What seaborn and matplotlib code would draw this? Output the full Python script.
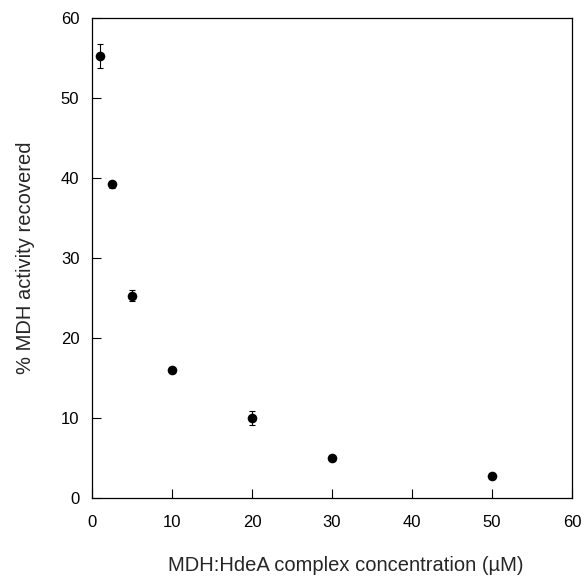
import numpy as np
import pandas as pd
import seaborn as sns
import matplotlib.pyplot as plt

# MDH activity recovery vs complex concentration
conc = [1, 2.5, 5, 10, 20, 30, 50]
activity = [55.3, 39.2, 25.3, 16.0, 10.0, 5.0, 2.8]
err = [1.5, 0.4, 0.7, 0.3, 0.9, 0.3, 0.4]

df = pd.DataFrame({"conc": conc, "activity": activity, "err": err})

sns.set_theme(style="white")
plt.rcParams['font.family'] = ['Liberation Sans', 'DejaVu Sans']

fig = plt.figure(figsize=(5.85, 5.78), dpi=100)
ax = fig.add_axes([0.157, 0.138, 0.821, 0.831])

ax.errorbar(df["conc"], df["activity"], yerr=df["err"], fmt="none",
            ecolor="black", elinewidth=0.8, capsize=2.5, capthick=0.8, zorder=2)
sns.scatterplot(data=df, x="conc", y="activity", color="black", s=48,
                edgecolor="black", linewidth=0, ax=ax, zorder=3)

ax.set_xlim(0, 60)
ax.set_ylim(0, 60)
ax.set_xticks(range(0, 61, 10))
ax.set_yticks(range(0, 61, 10))
ax.tick_params(direction="in", length=6.5, width=0.8, color="black",
               labelsize=12, labelcolor="black",
               top=False, right=False, bottom=True, left=True)
ax.tick_params(axis="x", pad=12)
ax.tick_params(axis="y", pad=9)
for s in ax.spines.values():
    s.set_color("black")
    s.set_linewidth(0.9)

ax.set_xlabel("MDH:HdeA complex concentration (µM)", fontsize=14.5)
ax.xaxis.label.set_va("baseline")
ax.xaxis.set_label_coords(0.529, -0.152)
ax.set_ylabel("% MDH activity recovered", fontsize=14.5)
ax.yaxis.set_label_coords(-0.118, 0.5)

fig.savefig("out.png", dpi=100)
